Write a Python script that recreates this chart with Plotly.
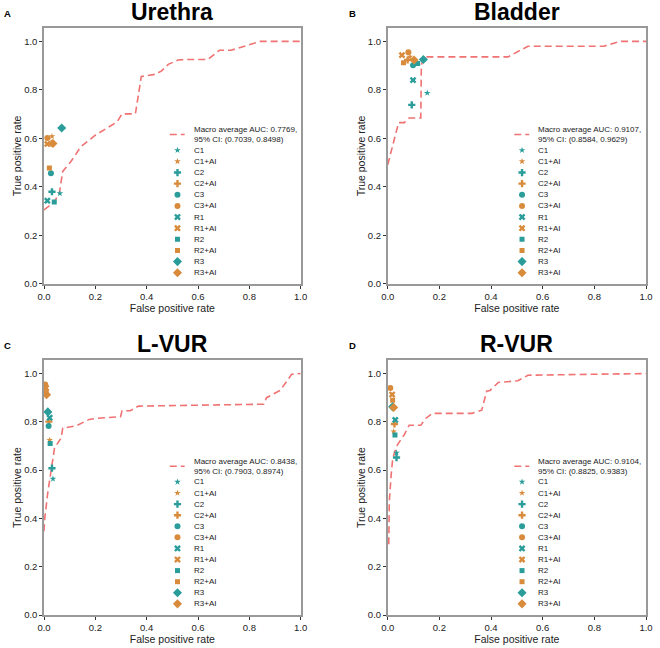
# ROC curves with reader operating points, four panels
import plotly.graph_objects as go

panels = ["Urethra", "Bladder", "L-VUR", "R-VUR"]
letters = ["A", "B", "C", "D"]
auc_text = [
    "Macro average AUC: 0.7769,<br>95% CI: (0.7039, 0.8498)",
    "Macro average AUC: 0.9107,<br>95% CI: (0.8584, 0.9629)",
    "Macro average AUC: 0.8438,<br>95% CI: (0.7903, 0.8974)",
    "Macro average AUC: 0.9104,<br>95% CI: (0.8825, 0.9383)",
]

# macro average ROC curves
fpr_a = [0.0, 0.041, 0.060, 0.073, 0.105, 0.144, 0.200, 0.285, 0.304, 0.356, 0.379, 0.433,
         0.458, 0.484, 0.522, 0.548, 0.638, 0.683, 0.728, 0.779, 0.843, 1.0]
tpr_a = [0.305, 0.339, 0.376, 0.464, 0.505, 0.566, 0.613, 0.668, 0.701, 0.701, 0.855, 0.864,
         0.878, 0.905, 0.923, 0.925, 0.925, 0.963, 0.963, 0.980, 1.0, 1.0]
fpr_b = [0.0, 0.042, 0.064, 0.083, 0.128, 0.130, 0.138, 0.466, 0.543, 0.837, 0.900, 1.0]
tpr_b = [0.491, 0.665, 0.665, 0.684, 0.684, 0.898, 0.936, 0.936, 0.980, 0.980, 1.0, 1.0]
fpr_c = [0.0, 0.003, 0.015, 0.035, 0.041, 0.067, 0.073, 0.125, 0.176, 0.202, 0.298, 0.304,
         0.336, 0.368, 0.856, 0.867, 0.920, 0.965, 1.0]
tpr_c = [0.347, 0.401, 0.509, 0.645, 0.692, 0.733, 0.774, 0.783, 0.810, 0.814, 0.821, 0.846,
         0.846, 0.865, 0.873, 0.900, 0.930, 0.997, 1.0]
fpr_d = [0.004, 0.006, 0.013, 0.019, 0.026, 0.038, 0.064, 0.083, 0.128, 0.147, 0.172, 0.326,
         0.364, 0.383, 0.396, 0.428, 0.504, 0.543, 1.0]
tpr_d = [0.293, 0.469, 0.577, 0.645, 0.672, 0.706, 0.747, 0.786, 0.786, 0.814, 0.835, 0.835,
         0.848, 0.927, 0.930, 0.963, 0.970, 0.993, 1.0]

readers = ["C1", "C1+AI", "C2", "C2+AI", "C3", "C3+AI",
           "R1", "R1+AI", "R2", "R2+AI", "R3", "R3+AI"]

# reader points (fpr, tpr) in the reader order above
pts_x_a = [0.062, 0.031, 0.031, 0.030, 0.027, 0.013, 0.013, 0.013, 0.040, 0.021, 0.069, 0.035]
pts_y_a = [0.373, 0.608, 0.380, 0.580, 0.456, 0.602, 0.343, 0.577, 0.338, 0.478, 0.643, 0.579]
pts_x_b = [0.153, 0.086, 0.093, 0.077, 0.098, 0.080, 0.098, 0.055, 0.116, 0.061, 0.138, 0.102]
pts_y_b = [0.787, 0.936, 0.738, 0.923, 0.901, 0.955, 0.840, 0.943, 0.909, 0.912, 0.925, 0.923]
pts_x_c = [0.035, 0.022, 0.031, 0.019, 0.018, 0.005, 0.022, 0.008, 0.024, 0.009, 0.015, 0.010]
pts_y_c = [0.564, 0.724, 0.608, 0.801, 0.783, 0.955, 0.817, 0.940, 0.710, 0.920, 0.841, 0.912]
pts_x_d = [0.034, 0.023, 0.034, 0.026, 0.019, 0.010, 0.029, 0.017, 0.028, 0.019, 0.019, 0.023]
pts_y_d = [0.672, 0.760, 0.652, 0.791, 0.862, 0.940, 0.808, 0.913, 0.745, 0.889, 0.862, 0.859]

curves = [(fpr_a, tpr_a), (fpr_b, tpr_b), (fpr_c, tpr_c), (fpr_d, tpr_d)]
points = [(pts_x_a, pts_y_a), (pts_x_b, pts_y_b), (pts_x_c, pts_y_c), (pts_x_d, pts_y_d)]

teal = "#2a9d9a"
orange = "#d98b3c"
line_col = "#f07272"
symbols = ["star", "star", "cross", "cross", "circle", "circle",
           "x", "x", "square", "square", "diamond", "diamond"]
sizes = [5, 5, 6, 6, 6, 6, 6, 6, 5, 5, 7, 7]
font = "Arial, Liberation Sans, sans-serif"

xdom = [[0, 0.4264], [0.571, 1.0], [0, 0.4264], [0.571, 1.0]]
ydom = [[0.564, 1.0], [0.564, 1.0], [0, 0.434], [0, 0.434]]
# panel letters in paper units of the plot area
letter_pos = [(-0.061, 1.025), (0.512, 1.025), (-0.061, 0.459), (0.512, 0.459)]

# legend layout inside each axis (axis units)
leg_line_x = [0.49, 0.548]
leg_line_y = 0.616
leg_mark_x = 0.52
leg_text_x = 0.575
leg_top = 0.551
leg_step = 0.0459

fig = go.Figure()
annotations = []

for i in range(4):
    sfx = "" if i == 0 else str(i + 1)
    xa, ya = "x" + sfx, "y" + sfx
    fpr, tpr = curves[i]
    fig.add_trace(go.Scatter(x=fpr, y=tpr, mode="lines", xaxis=xa, yaxis=ya,
                             line=dict(color=line_col, width=1.6, dash="7px,4px"),
                             showlegend=False))
    px, py = points[i]
    for j in range(len(readers)):
        col = teal if j % 2 == 0 else orange
        fig.add_trace(go.Scatter(x=[px[j]], y=[py[j]], mode="markers", xaxis=xa, yaxis=ya,
                                 marker=dict(symbol=symbols[j], size=sizes[j], color=col,
                                             line=dict(width=0)),
                                 name=readers[j], showlegend=False))

    # hand-drawn legend
    fig.add_trace(go.Scatter(x=leg_line_x, y=[leg_line_y, leg_line_y], mode="lines",
                             xaxis=xa, yaxis=ya, showlegend=False, hoverinfo="skip",
                             line=dict(color=line_col, width=1.6, dash="7px,4px")))
    annotations.append(dict(x=leg_text_x, y=leg_line_y, xref=xa, yref=ya, text=auc_text[i],
                            showarrow=False, xanchor="left", yanchor="middle", align="left",
                            font=dict(size=8, color="#222", family=font)))
    leg_y = [leg_top - k * leg_step for k in range(len(readers))]
    for j in range(len(readers)):
        col = teal if j % 2 == 0 else orange
        fig.add_trace(go.Scatter(x=[leg_mark_x], y=[leg_y[j]], mode="markers",
                                 xaxis=xa, yaxis=ya, showlegend=False, hoverinfo="skip",
                                 marker=dict(symbol=symbols[j], size=sizes[j], color=col,
                                             line=dict(width=0))))
        annotations.append(dict(x=leg_text_x, y=leg_y[j], xref=xa, yref=ya, text=readers[j],
                                showarrow=False, xanchor="left", yanchor="middle",
                                font=dict(size=8, color="#222", family=font)))

    # panel title and letter
    annotations.append(dict(x=0.5, y=1.0, xref=xa + " domain", yref=ya + " domain",
                            text="<b>" + panels[i] + "</b>", showarrow=False,
                            yanchor="middle", yshift=16.5,
                            font=dict(size=23, color="black", family=font)))
    annotations.append(dict(x=letter_pos[i][0], y=letter_pos[i][1], xref="paper",
                            yref="paper", text="<b>" + letters[i] + "</b>", showarrow=False,
                            xanchor="center", yanchor="middle",
                            font=dict(size=9.5, color="black", family=font)))

axis_style = dict(showgrid=False, zeroline=False, showline=True, linecolor="#999999",
                  linewidth=1.5, mirror=True, ticks="outside", ticklen=3, tickwidth=1,
                  tickcolor="#333", tickfont=dict(size=9.5, color="#222", family=font),
                  tickformat=".1f", dtick=0.2)

layout = dict(width=660, height=648, margin=dict(l=44, r=7, t=28, b=25),
              plot_bgcolor="white", paper_bgcolor="white", showlegend=False,
              annotations=annotations)
for i in range(4):
    sfx = "" if i == 0 else str(i + 1)
    layout["xaxis" + sfx] = dict(axis_style, domain=xdom[i], range=[0, 1.0],
                                 anchor="y" + sfx,
                                 title=dict(text="False positive rate", standoff=0,
                                            font=dict(size=10.5, color="#222", family=font)))
    layout["yaxis" + sfx] = dict(axis_style, domain=ydom[i], range=[0, 1.055],
                                 anchor="x" + sfx,
                                 title=dict(text="True positive rate", standoff=0,
                                            font=dict(size=10.5, color="#222", family=font)))

fig.update_layout(**layout)
fig.write_html("out.html", config={"displayModeBar": False},
               post_script="document.body.style.margin='0px';")
